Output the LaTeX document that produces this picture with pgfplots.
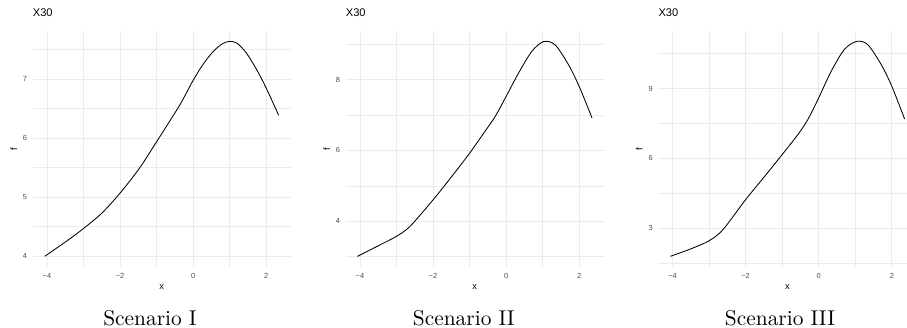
\documentclass[border=0pt]{standalone}
\usepackage{fontspec}
\usepackage{pgfplots}
\pgfplotsset{compat=1.18}
\newfontfamily\sans{Liberation Sans}
\newfontfamily\lmten{lmroman10-regular.otf}
\definecolor{gridc}{HTML}{EBEBEB}
\definecolor{tickc}{HTML}{4D4D4D}
\pgfplotsset{
  gg/.style={
    scale only axis, width=258pt, height=236.3pt, anchor=south west,
    xmin=-4.39, xmax=2.67,
    axis line style={draw=none},
    major tick length=0pt, minor tick length=0pt,
    tick style={draw=none},
    grid=both,
    major grid style={color=gridc, line width=0.9pt},
    minor grid style={color=gridc, line width=0.5pt},
    xtick={-4,-2,0,2}, xticklabels={−4,−2,0,2},
    minor xtick={-3,-1,1},
    tick label style={font=\sans\fontsize{7.4}{8}\selectfont, text=tickc, inner sep=0pt},
    xticklabel style={anchor=north, yshift=-6pt},
    yticklabel style={anchor=east, xshift=-5.4pt},
    xlabel={x}, ylabel={f},
    label style={font=\sans\fontsize{9.2}{10}\selectfont, inner sep=0pt},
    xlabel style={at={(axis description cs:0.5,0)}, anchor=center, yshift=-20pt},
    ylabel style={at={([xshift=-19pt]axis description cs:0,0.5)}, anchor=center},
    title={X30},
    title style={at={(axis description cs:0,1)}, anchor=base west, yshift=7.7pt, font=\sans\fontsize{11.1}{12}\selectfont, inner sep=0pt},
  },
  curve/.style={black, line width=0.85pt, smooth, tension=0.5, no marks}
}
\begin{document}
\begin{tikzpicture}
\useasboundingbox (0pt,0pt) rectangle (907pt,328pt);
% Panel 1
\begin{axis}[gg, at={(32.7pt,61pt)}, ymin=3.818, ymax=7.822,
  ytick={4,5,6,7}, yticklabels={4,5,6,7}, minor ytick={4.5,5.5,6.5,7.5}]
\addplot[curve] coordinates {(-4.06,4.00) (-3.5,4.24) (-3.0,4.47) (-2.5,4.73) (-2.0,5.07) (-1.47,5.49) (-1.0,5.94) (-0.64,6.29) (-0.33,6.60) (0,6.98) (0.27,7.25) (0.55,7.47) (0.80,7.60) (1.0,7.64) (1.2,7.61) (1.45,7.45) (1.75,7.15) (2.0,6.85) (2.34,6.39)};
\end{axis}
% Panel 2
\begin{axis}[gg, at={(345.7pt,61pt)}, ymin=2.70, ymax=9.39,
  ytick={4,6,8}, yticklabels={4,6,8}, minor ytick={3,5,7,9}]
\addplot[curve] coordinates {(-4.07,3.00) (-3.5,3.30) (-3.0,3.57) (-2.63,3.85) (-2.0,4.60) (-1.49,5.26) (-1.0,5.92) (-0.58,6.54) (-0.30,6.96) (0,7.53) (0.34,8.19) (0.70,8.80) (1.02,9.08) (1.34,8.99) (1.71,8.42) (2.0,7.81) (2.35,6.92)};
\end{axis}
% Panel 3
\begin{axis}[gg, at={(658.3pt,61pt)}, width=248.7pt, xmax=2.416, ymin=1.32, ymax=11.49,
  ytick={3,6,9}, yticklabels={3,6,9}, minor ytick={1.5,4.5,7.5,10.5},
  xlabel style={at={(axis description cs:0.5187,0)}}]
\addplot[curve] coordinates {(-4.06,1.78) (-3.5,2.10) (-3.0,2.45) (-2.62,2.93) (-2.0,4.22) (-1.48,5.22) (-1.0,6.16) (-0.57,7.02) (-0.30,7.66) (0,8.60) (0.34,9.74) (0.70,10.68) (1.04,11.03) (1.34,10.89) (1.71,10.03) (2.0,9.10) (2.35,7.69)};
\end{axis}
\node[anchor=base, inner sep=0pt, font=\lmten\fontsize{21.4}{24}\selectfont] at (150pt,2.5pt) {Scenario I};
\node[anchor=base, inner sep=0pt, font=\lmten\fontsize{21.4}{24}\selectfont] at (463.8pt,2.5pt) {Scenario II};
\node[anchor=base, inner sep=0pt, font=\lmten\fontsize{21.4}{24}\selectfont] at (780pt,2.5pt) {Scenario III};
\end{tikzpicture}
\end{document}
